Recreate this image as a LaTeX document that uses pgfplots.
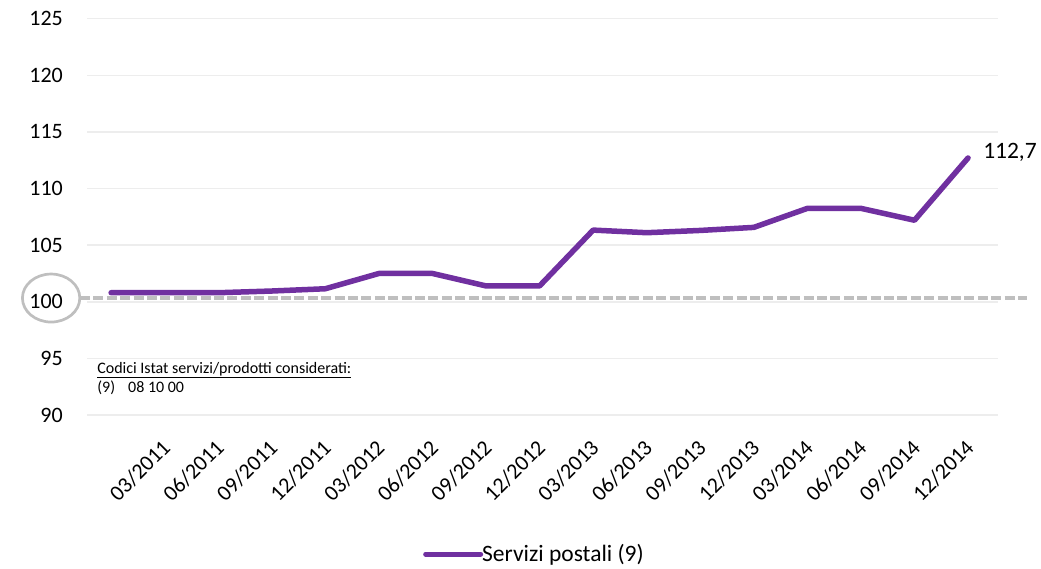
\documentclass[border=0pt]{standalone}
\usepackage{pgfplots}
\pgfplotsset{compat=1.18}
\usepackage{fontspec}
\setmainfont{Carlito}
\definecolor{lineviolet}{HTML}{7030A0}
\definecolor{gridc}{HTML}{EDEDED}
\definecolor{refgray}{HTML}{BFBFBF}

\pgfplotstableread{
x y
0 100.8
1 100.8
2 100.8
3 100.95
4 101.15
5 102.5
6 102.5
7 101.4
8 101.4
9 106.33
10 106.1
11 106.3
12 106.57
13 108.25
14 108.25
15 107.2
16 112.7
}\servizi

\begin{document}
\begin{tikzpicture}
\useasboundingbox (-87pt,-153pt) rectangle (954pt,415pt);
\begin{axis}[
  at={(0pt,0pt)}, anchor=south west,
  scale only axis, width=910.5pt, height=396.3pt,
  xmin=-0.45, xmax=16.55, ymin=90, ymax=125,
  axis line style={draw=none},
  major tick length=0pt,
  tick style={draw=none},
  ytick={90,95,...,125},
  ymajorgrids,
  grid style={gridc, line width=1.5pt},
  xtick={1,...,16},
  xticklabels={03/2011,06/2011,09/2011,12/2011,03/2012,06/2012,09/2012,12/2012,03/2013,06/2013,09/2013,12/2013,03/2014,06/2014,09/2014,12/2014},
  tick label style={font=\fontsize{22}{26}\selectfont, text=black},
  /pgf/number format/assume math mode=true,
  yticklabel style={inner sep=0pt, anchor=east, xshift=-24pt},
  xticklabel style={inner sep=0pt, xshift=2pt, yshift=-29pt, rotate=45, anchor=east},
  clip=false,
  legend style={at={(0.3692,-0.351)}, anchor=west, draw=none, fill=none,
    inner sep=0pt, outer sep=0pt, font=\fontsize{23.5}{27}\selectfont,
    /tikz/every odd column/.style={column sep=-3pt}},
  legend cell align=left,
  legend image code/.code={\draw[#1, line width=5pt, line cap=round] (0pt,0pt) -- (55pt,0pt);},
]
\draw[refgray, line width=3.3pt, dash pattern=on 10pt off 3.4pt] (axis cs:-0.58,100.33) -- (axis cs:17.1,100.33);
\draw[refgray, line width=2.7pt] (axis cs:-1.12,100.33) ellipse [x radius=28.7pt, y radius=24pt];
\addplot[lineviolet, line width=5.5pt, line cap=round, line join=round] table[x=x, y=y] {\servizi};
\addlegendentry{Servizi postali (9)}
\node[anchor=west, inner sep=0pt, font=\fontsize{23.5}{27}\selectfont] at (axis cs:16.28,113.22) {112,7};
\node[anchor=west, inner sep=0pt, font=\fontsize{16}{19}\selectfont] at (axis cs:-0.26,93.97) {\underline{Codici Istat servizi/prodotti considerati:}};
\node[anchor=west, inner sep=0pt, font=\fontsize{16}{19}\selectfont] at (axis cs:-0.26,92.38) {(9)\hspace{13pt}08 10 00};
\end{axis}
\end{tikzpicture}
\end{document}
